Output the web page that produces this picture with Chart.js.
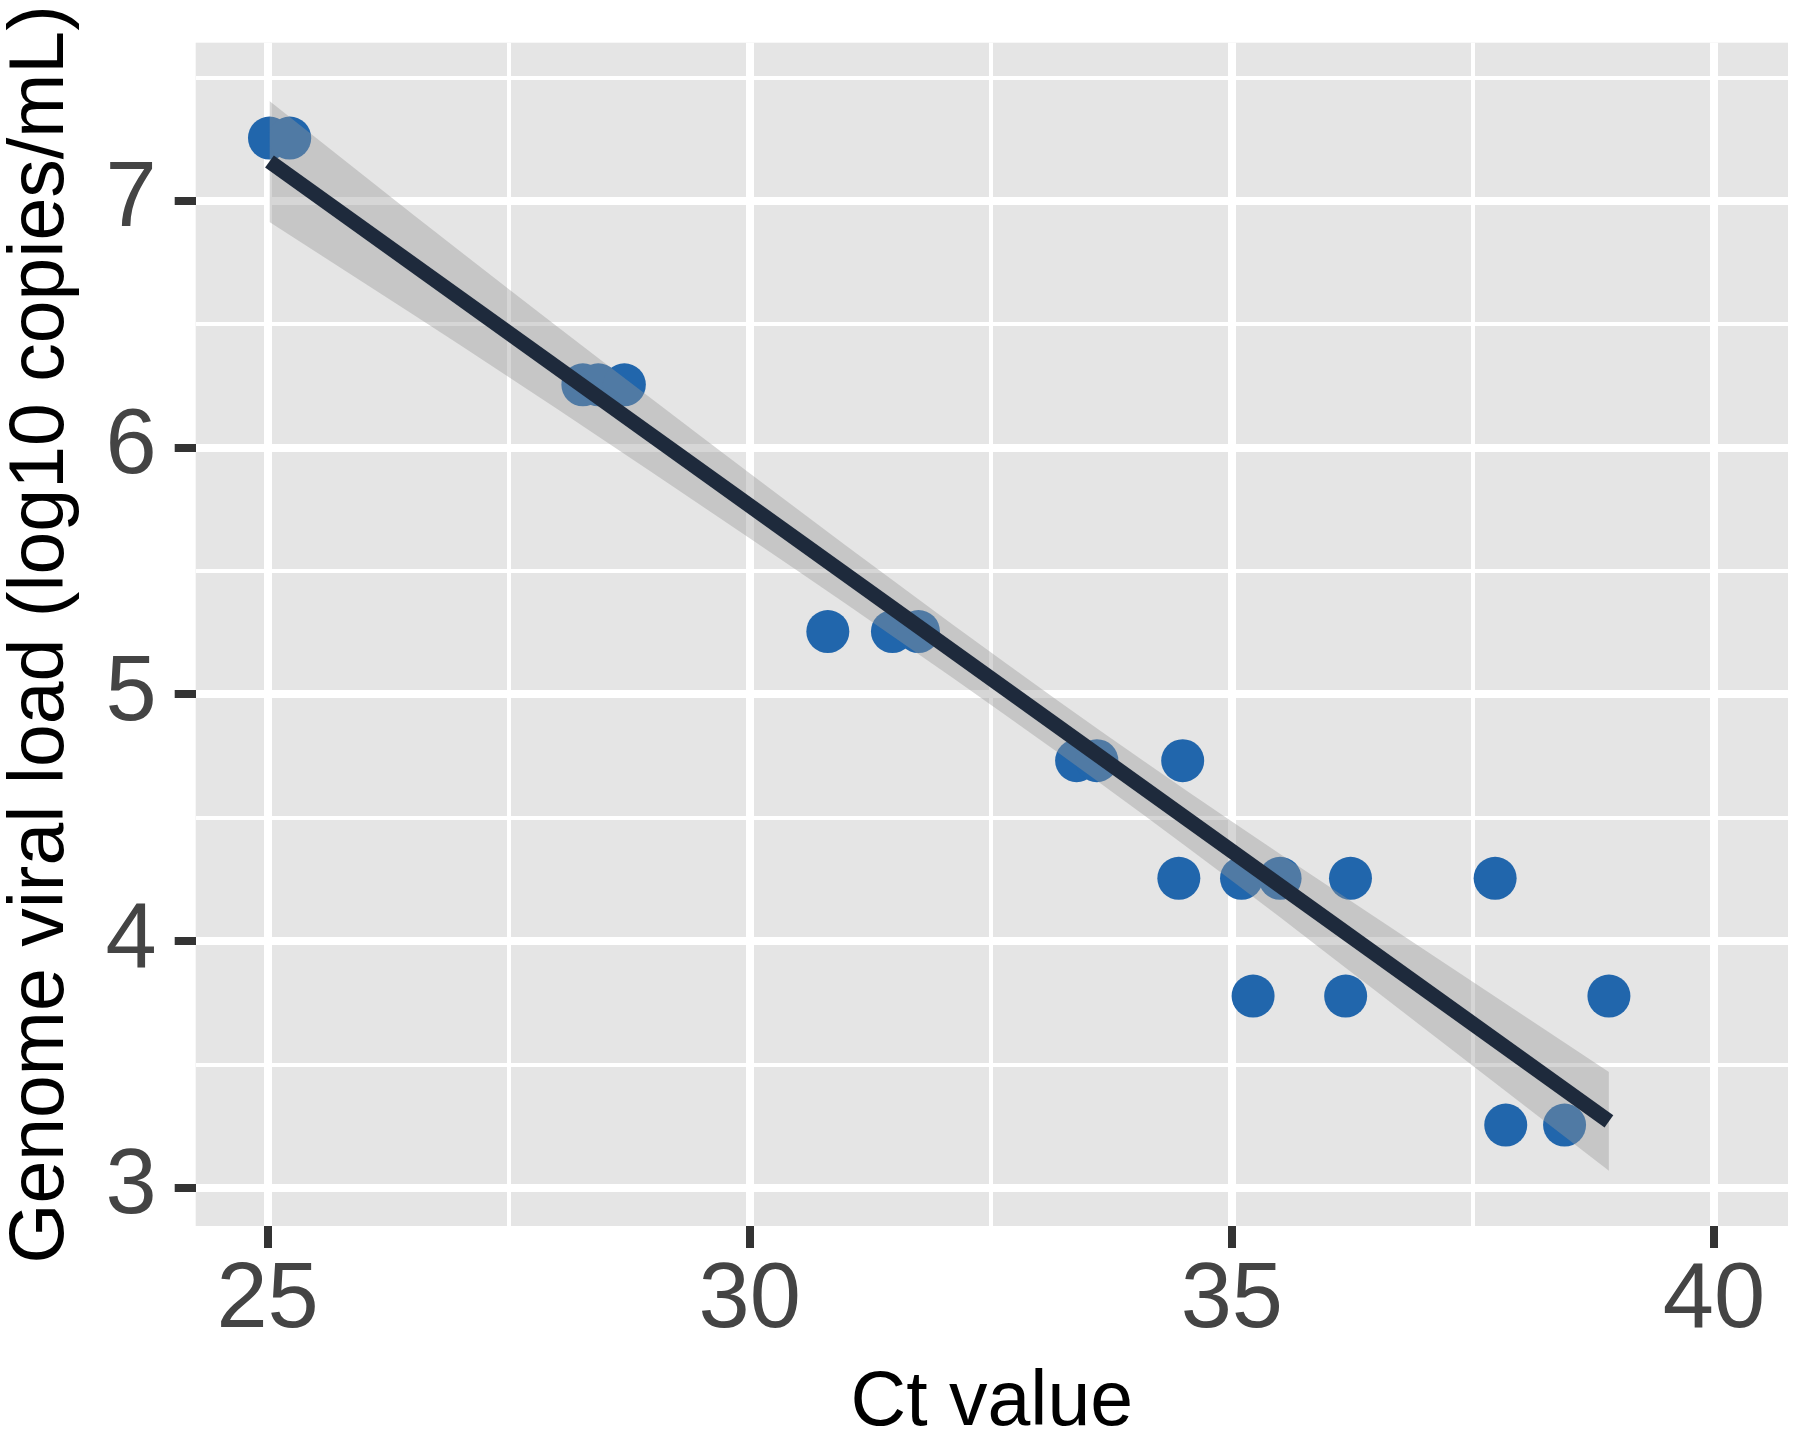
<!DOCTYPE html>
<html>
<head>
<meta charset="utf-8">
<script src="https://cdn.jsdelivr.net/npm/chart.js@4.4.1/dist/chart.umd.min.js"></script>
<style>
  html, body { margin: 0; padding: 0; background: #ffffff; }
  #wrap { width: 1800px; height: 1443px; }
</style>
</head>
<body>
<div id="wrap"><canvas id="c" width="1800" height="1443"></canvas></div>
<script>
// ---- data ----
const ctValues  = [25.02, 25.23, 28.27, 28.43, 28.70, 30.81, 31.48, 31.75, 33.39, 33.60, 34.49,
                   34.45, 35.10, 35.50, 36.23, 37.73, 35.22, 36.18, 38.91, 37.84, 38.45];
const viralLoad = [7.255, 7.255, 6.255, 6.255, 6.255, 5.255, 5.255, 5.255, 4.732, 4.732, 4.732,
                   4.255, 4.255, 4.255, 4.255, 4.255, 3.778, 3.778, 3.778, 3.255, 3.255];

// fitted regression line (ends)
const fitX = [25.02, 38.91];
const fitY = [7.16, 3.27];

// confidence band, read at several x positions
const bandX     = [25.02, 27.0, 29.0, 31.0, 33.2, 35.0, 37.0, 38.91];
const bandUpper = [7.405, 6.795, 6.193, 5.603, 4.974, 4.485, 3.965, 3.470];
const bandLower = [6.915, 6.415, 5.897, 5.367, 4.764, 4.245, 3.645, 3.070];

// axis ticks
const xMajorTicks = [25, 30, 35, 40];
const xMinorTicks = [27.5, 32.5, 37.5];
const yMajorTicks = [3, 4, 5, 6, 7];
const yMinorTicks = [3.5, 4.5, 5.5, 6.5, 7.5];
const xRange = [24.255, 40.767];
const yRange = [2.846, 7.6415];

const xTitle = 'Ct value';
const yTitle = 'Genome viral load (log10 copies/mL)';

// ---- build chart ----
const FONT = '"Liberation Sans", Arial, Helvetica, sans-serif';
const pts = ctValues.map((x, i) => ({ x: x, y: viralLoad[i] }));
const fitPts = fitX.map((x, i) => ({ x: x, y: fitY[i] }));
const upPts = bandX.map((x, i) => ({ x: x, y: bandUpper[i] }));
const loPts = bandX.map((x, i) => ({ x: x, y: bandLower[i] }));

const isMajor = (list, v) => list.some(m => Math.abs(m - v) < 1e-9);

const panelBg = {
  id: 'panelBg',
  beforeDraw(chart) {
    const a = chart.chartArea, ctx = chart.ctx;
    ctx.save();
    ctx.fillStyle = '#E5E5E5';
    ctx.fillRect(a.left, a.top, a.right - a.left, a.bottom - a.top);
    ctx.restore();
  }
};

new Chart(document.getElementById('c'), {
  type: 'line',
  data: {
    datasets: [
      {
        label: 'fit',
        data: fitPts,
        borderColor: '#1E2A3C',
        borderWidth: 15,
        borderCapStyle: 'butt',
        pointRadius: 0,
        fill: false,
        order: 0
      },
      {
        label: 'upper',
        data: upPts,
        borderColor: 'rgba(0,0,0,0)',
        borderWidth: 0,
        pointRadius: 0,
        cubicInterpolationMode: 'monotone',
        fill: 2,
        backgroundColor: 'rgba(153,153,153,0.4)',
        order: 1
      },
      {
        label: 'lower',
        data: loPts,
        borderColor: 'rgba(0,0,0,0)',
        borderWidth: 0,
        pointRadius: 0,
        cubicInterpolationMode: 'monotone',
        fill: false,
        order: 1
      },
      {
        label: 'points',
        type: 'scatter',
        data: pts,
        showLine: false,
        pointRadius: 21.5,
        pointHoverRadius: 21.5,
        pointBorderWidth: 0,
        pointBackgroundColor: '#2166AC',
        pointBorderColor: '#2166AC',
        order: 2
      }
    ]
  },
  options: {
    responsive: false,
    animation: false,
    events: [],
    layout: { autoPadding: false, padding: { top: 42.7, right: 12, left: 0, bottom: 0 } },
    plugins: { legend: { display: false }, tooltip: { enabled: false } },
    scales: {
      x: {
        type: 'linear',
        min: xRange[0],
        max: xRange[1],
        afterBuildTicks(scale) {
          scale.ticks = xMajorTicks.concat(xMinorTicks).sort((a, b) => a - b).map(v => ({ value: v }));
        },
        afterFit(scale) {
          scale.height = 217;
          scale.paddingLeft = 0; scale.paddingRight = 0;
        },
        border: { display: false },
        grid: {
          color: '#FFFFFF',
          lineWidth: ctx => isMajor(xMajorTicks, ctx.tick.value) ? 8 : 4,
          tickColor: ctx => isMajor(xMajorTicks, ctx.tick.value) ? '#333333' : 'rgba(0,0,0,0)',
          tickWidth: 8,
          tickLength: 22,
          drawTicks: true
        },
        ticks: {
          autoSkip: false,
          maxRotation: 0,
          padding: 8,
          color: '#444444',
          font: { family: FONT, size: 92, lineHeight: 1 },
          callback: v => isMajor(xMajorTicks, v) ? String(v) : ''
        },
        title: {
          display: true,
          text: xTitle,
          color: '#000000',
          font: { family: FONT, size: 77, lineHeight: 1 },
          padding: { top: 0, bottom: 1 }
        }
      },
      y: {
        type: 'linear',
        min: yRange[0],
        max: yRange[1],
        afterBuildTicks(scale) {
          scale.ticks = yMajorTicks.concat(yMinorTicks).sort((a, b) => a - b).map(v => ({ value: v }));
        },
        afterFit(scale) {
          scale.width = 195.7;
          scale.paddingTop = 0; scale.paddingBottom = 0;
        },
        border: { display: false },
        grid: {
          color: '#FFFFFF',
          lineWidth: ctx => isMajor(yMajorTicks, ctx.tick.value) ? 8 : 4,
          tickColor: ctx => isMajor(yMajorTicks, ctx.tick.value) ? '#333333' : 'rgba(0,0,0,0)',
          tickWidth: 8,
          tickLength: 21,
          drawTicks: true
        },
        ticks: {
          autoSkip: false,
          padding: 18,
          color: '#444444',
          font: { family: FONT, size: 92, lineHeight: 1 },
          callback: v => isMajor(yMajorTicks, v) ? String(v) : ''
        },
        title: {
          display: true,
          text: yTitle,
          color: '#000000',
          font: { family: FONT, size: 77, lineHeight: 1 },
          padding: { top: 3, bottom: 0 }
        }
      }
    }
  },
  plugins: [panelBg]
});
</script>
</body>
</html>
